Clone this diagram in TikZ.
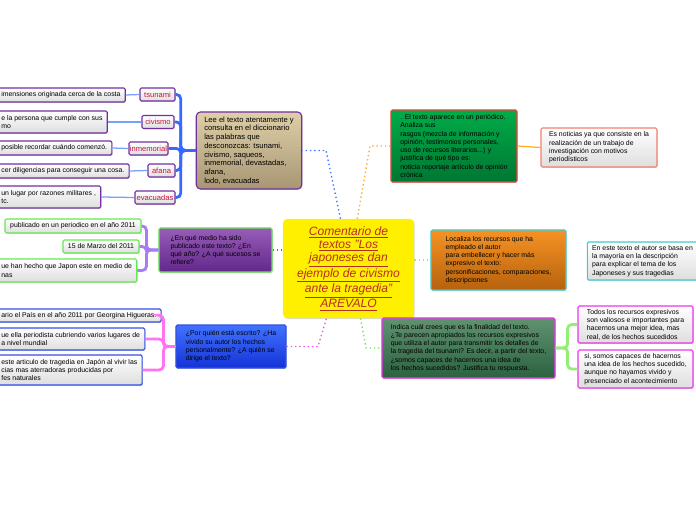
\documentclass[tikz,border=0pt]{standalone}
\usepackage{fontspec}
\setmainfont{Liberation Sans}
\usetikzlibrary{shadows}
\definecolor{boxpurple}{RGB}{112,48,160}
\definecolor{kwred}{RGB}{205,20,60}
\definecolor{branchblue}{RGB}{55,105,255}
\definecolor{twigblue}{RGB}{120,160,255}
\definecolor{lavender}{RGB}{165,125,245}
\definecolor{pinkbr}{RGB}{255,115,240}
\definecolor{lgreen}{RGB}{145,240,115}
\definecolor{grnborder}{RGB}{100,232,80}
\definecolor{blueborder}{RGB}{50,80,230}
\definecolor{brtop}{RGB}{222,207,168}
\definecolor{brbot}{RGB}{168,150,116}
\definecolor{purtop}{RGB}{152,92,184}
\definecolor{purbot}{RGB}{98,40,138}
\definecolor{bluetop}{RGB}{65,115,255}
\definecolor{bluebot}{RGB}{20,50,215}
\definecolor{titleyellow}{RGB}{255,240,0}
\definecolor{titlered}{RGB}{185,45,35}
\definecolor{grntop}{RGB}{0,172,72}
\definecolor{grnbot}{RGB}{0,118,50}
\definecolor{redborder}{RGB}{232,70,58}
\definecolor{salmon}{RGB}{240,130,110}
\definecolor{orgtop}{RGB}{246,146,36}
\definecolor{orgbot}{RGB}{182,98,14}
\definecolor{cyanborder}{RGB}{60,205,212}
\definecolor{dkgtop}{RGB}{96,146,112}
\definecolor{dkgbot}{RGB}{44,98,64}
\definecolor{magborder}{RGB}{240,50,240}
\definecolor{dotblue}{RGB}{70,120,255}
\definecolor{dotorange}{RGB}{255,170,50}
\definecolor{dotpurple}{RGB}{140,70,255}
\definecolor{dotlime}{RGB}{200,230,30}
\definecolor{dotpink}{RGB}{255,80,240}
\definecolor{dotgreen}{RGB}{100,240,70}
\definecolor{solorange}{RGB}{255,175,40}
\newcommand{\boxtxt}{\fontsize{4.9}{5.9}\selectfont}
\newcommand{\leetxt}{\fontsize{5.4}{6.2}\selectfont}
\newcommand{\titletxt}{\fontsize{8.6}{9.4}\selectfont\itshape}

\begin{document}
\begin{tikzpicture}[x=0.025cm,y=-0.025cm,
  topic/.style={draw,line width=0.8pt,rounded corners=1pt,align=left,font=\boxtxt,
                inner xsep=0.2cm,inner ysep=0.05cm,
                drop shadow={shadow xshift=0.5pt,shadow yshift=-0.7pt,opacity=0.3}},
  leaf/.style={topic,top color=white,bottom color=black!13,inner xsep=0.12cm},
  kword/.style={leaf,draw=boxpurple,text=kwred,align=center,inner xsep=0pt,minimum height=0.325cm,font=\leetxt},
  trunk/.style={line width=2pt,rounded corners=3pt},
  twig/.style={line width=0.9pt},
  link/.style={line width=1pt,dotted}
]
\useasboundingbox (0,0) rectangle (696,520);
\clip (0,0) rectangle (696,520);

\node[topic,rounded corners=3pt,draw=boxpurple,top color=brtop,bottom color=brbot,font=\leetxt,
      minimum width=2.6cm,minimum height=1.925cm] (lee) at (249,150.5)
  {Lee el texto atentamente y\\consulta en el diccionario\\las palabras que\\desconozcas: tsunami,\\civismo, saqueos,\\inmemorial, devastadas,\\afana,\\lodo, evacuadas};
\node[kword,minimum width=0.875cm] (tsunami) at (157.5,94.5) {tsunami};
\node[kword,minimum width=0.8cm] (civismo) at (158,122) {civismo};
\node[kword,minimum width=0.975cm] (inmemorial) at (148.5,148.5) {inmemorial};
\node[kword,minimum width=0.675cm] (afana) at (161.5,170.5) {afana};
\node[kword,minimum width=1cm] (evacuadas) at (155,197.5) {evacuadas};
\node[leaf,draw=boxpurple,anchor=west,minimum height=0.35cm] (deftsunami) at (-4,95)
  {imensiones originada cerca de la costa};
\node[leaf,draw=boxpurple,anchor=west,minimum height=0.55cm] (defcivismo) at (-4,122)
  {e la persona que cumple con sus\\mo};
\node[leaf,draw=boxpurple,anchor=west,minimum height=0.35cm] (definmemorial) at (-4,148)
  {posible recordar cuándo comenzó.};
\node[leaf,draw=boxpurple,anchor=west,minimum height=0.35cm] (defafana) at (-4,171)
  {cer diligencias para conseguir una cosa.};
\node[leaf,draw=boxpurple,anchor=west,minimum height=0.55cm] (defevacuadas) at (-4,197)
  {un lugar por razones militares ,\\tc.};

\node[topic,draw=grnborder,top color=purtop,bottom color=purbot,
      minimum width=2.825cm,minimum height=1.1cm] (medio) at (215.5,250)
  {¿En qué medio ha sido\\publicado este texto? ¿En\\qué año? ¿A qué sucesos se\\refiere?};
\node[leaf,draw=grnborder,minimum width=3.4cm,minimum height=0.35cm] (periodico) at (73,226)
  {publicado en un periodico en el año 2011};
\node[leaf,draw=grnborder,minimum width=1.9cm,minimum height=0.325cm] (fecha) at (101,246.5)
  {15 de Marzo del 2011};
\node[leaf,draw=grnborder,anchor=west,minimum height=0.575cm] (sucesos) at (-4,270.5)
  {ue han hecho que Japon este en medio de\\nas};

\node[topic,draw=blueborder,top color=bluetop,bottom color=bluebot,
      minimum width=2.75cm,minimum height=1.075cm] (autor) at (231,346.5)
  {¿Por quién está escrito? ¿Ha\\vivido su autor los hechos\\personalmente? ¿A quién se\\dirige el texto?};
\node[leaf,draw=blueborder,anchor=west,minimum height=0.325cm] (diario) at (-4,315.5)
  {ario el País en el año 2011 por Georgina Higueras.};
\node[leaf,draw=blueborder,anchor=west,minimum height=0.55cm] (cubriendo) at (-4,339)
  {ue ella periodista cubriendo varios lugares de\\ a nivel mundial};
\node[leaf,draw=blueborder,anchor=west,minimum height=0.75cm] (vivencias) at (-4,370)
  {este articulo de tragedia en Japón al vivir las\\cias mas aterradoras producidas por\\fes naturales};

\node[fill=titleyellow,rounded corners=3pt,text=titlered,align=center,font=\titletxt,
      minimum width=3.275cm,minimum height=2.475cm,
      drop shadow={shadow xshift=0.5pt,shadow yshift=-0.7pt,opacity=0.3}] (titulo) at (348.5,268.5)
  {\underline{Comentario de}\\\underline{textos "Los}\\\underline{japoneses dan}\\\underline{ejemplo de civismo}\\\underline{ante la tragedia"}\\\underline{AREVALO}};

\node[topic,draw=redborder,top color=grntop,bottom color=grnbot,
      minimum width=3.15cm,minimum height=1.8cm] (prensa) at (454,146)
  {. El texto aparece en un periódico.\\Analiza sus\\rasgos (mezcla de información y\\opinión, testimonios personales,\\uso de recursos literarios...) y\\justifica de qué tipo es:\\noticia reportaje artículo de opinión\\crónica};
\node[leaf,draw=salmon,minimum width=2.9cm,minimum height=0.975cm] (noticia) at (599,147.5)
  {Es noticias ya que consiste en la\\realización de un trabajo de\\investigación con motivos\\periodísticos};

\node[topic,draw=cyanborder,top color=orgtop,bottom color=orgbot,
      minimum width=3.375cm,minimum height=1.5cm] (recursos) at (498.5,260)
  {Localiza los recursos que ha\\empleado el autor\\para embellecer y hacer más\\expresivo el texto:\\personificaciones, comparaciones,\\descripciones};
\node[leaf,draw=cyanborder,minimum width=2.675cm,minimum height=0.95cm] (descripcion) at (642.5,261)
  {En este texto el autor se basa en\\la mayoría en la descripción\\para explicar el tema de los\\Japoneses y sus tragedias};

\node[topic,draw=magborder,top color=dkgtop,bottom color=dkgbot,
      minimum width=4.325cm,minimum height=1.5cm] (finalidad) at (468.5,348)
  {Indica cuál crees que es la finalidad del texto.\\¿Te parecen apropiados los recursos expresivos\\que utiliza el autor para transmitir los detalles de\\la tragedia del tsunami? Es decir, a partir del texto,\\¿somos capaces de hacernos una idea de\\los hechos sucedidos? Justifica tu respuesta.};
\node[leaf,draw=magborder,minimum width=2.875cm,minimum height=0.925cm] (valiosos) at (635.5,324.5)
  {Todos los recursos expresivos\\son valiosos e importantes para\\hacernos una mejor idea, mas\\real,  de los hechos sucedidos};
\node[leaf,draw=magborder,minimum width=2.875cm,minimum height=0.95cm] (capaces) at (635.5,369)
  {si, somos capaces de hacernos\\una idea de los hechos sucedido,\\aunque no hayamos vivido y\\presenciado el acontecimiento};

\coordinate (jlee) at (326,150.5);
\coordinate (jprensa) at (370,146);
\coordinate (jautor) at (318,346.5);
\coordinate (jfin) at (366,348);

\draw[link,dotblue] ([xshift=-0.2cm]titulo.north) -- (jlee) -- (lee.east);
\draw[link,dotorange] ([xshift=0.22cm]titulo.north) -- (jprensa) -- (prensa.west);
\draw[link,dotpurple] (medio.east) -- (medio.east -| titulo.west);
\draw[link,dotlime] (titulo.east |- recursos.west) -- (recursos.west);
\draw[link,dotpink] (autor.east) -- (jautor) -- ([xshift=-0.55cm]titulo.south);
\draw[link,dotgreen] ([xshift=0.3cm]titulo.south) -- (jfin) -- (finalidad.west);
\draw[twig,solorange] (prensa.east) -- (noticia.west);

\draw[trunk,branchblue] (lee.west) -- ++(-15,0) |- (tsunami.east);
\draw[trunk,branchblue] (lee.west) -- ++(-15,0) |- (civismo.east);
\draw[trunk,branchblue] (lee.west) -- ++(-15,0) |- (inmemorial.east);
\draw[trunk,branchblue] (lee.west) -- ++(-15,0) |- (afana.east);
\draw[trunk,branchblue] (lee.west) -- ++(-15,0) |- (evacuadas.east);
\draw[twig,twigblue] (tsunami.west) -- (deftsunami.east);
\draw[twig,twigblue] (civismo.west) -- (defcivismo.east);
\draw[twig,twigblue] (inmemorial.west) -- (definmemorial.east);
\draw[twig,twigblue] (afana.west) -- (defafana.east);
\draw[twig,twigblue] (evacuadas.west) -- (defevacuadas.east);

\draw[trunk,lavender] (medio.west) -- ++(-12,0) |- (periodico.east);
\draw[trunk,lavender] (medio.west) -- ++(-12,0) |- (fecha.east);
\draw[trunk,lavender] (medio.west) -- ++(-12,0) |- (sucesos.east);

\draw[trunk,pinkbr] (autor.west) -- ++(-12,0) |- (diario.east);
\draw[trunk,pinkbr] (autor.west) -- ++(-12,0) |- (cubriendo.east);
\draw[trunk,pinkbr] (autor.west) -- ++(-12,0) |- (vivencias.east);

\draw[trunk,lgreen] (finalidad.east) -- ++(12,0) |- (valiosos.west);
\draw[trunk,lgreen] (finalidad.east) -- ++(12,0) |- (capaces.west);
\end{tikzpicture}
\end{document}
